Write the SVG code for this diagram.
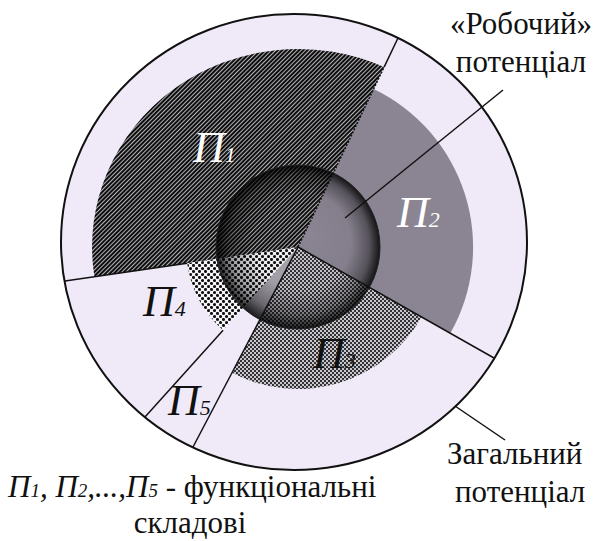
<svg xmlns="http://www.w3.org/2000/svg" width="596" height="541" viewBox="0 0 596 541">
<style>
text{font-family:'Liberation Serif','DejaVu Serif',serif}
.t{font-size:31px;fill:#111}
.pl{font-style:italic;font-size:44px}
.sub{font-size:22px}
.ln{stroke:#111;stroke-width:1.5;fill:none}
</style>
<defs>
<pattern id="hatch" width="3" height="3" patternUnits="userSpaceOnUse" patternTransform="rotate(-45)">
<rect width="3" height="3" fill="#c8c6cc"/>
<rect width="3" height="2.1" fill="#0e0e0e"/>
</pattern>
<pattern id="check" width="4" height="4" patternUnits="userSpaceOnUse">
<rect width="4" height="4" fill="#c9c5cd"/>
<rect width="2" height="2" fill="#333336"/>
<rect x="2" y="2" width="2" height="2" fill="#333336"/>
</pattern>
<pattern id="dots" width="6" height="6" patternUnits="userSpaceOnUse">
<rect width="6" height="6" fill="#f8f6fb"/>
<circle cx="1.5" cy="1.5" r="1.55" fill="#111"/>
<circle cx="4.5" cy="4.5" r="1.55" fill="#111"/>
</pattern>
<radialGradient id="sph" cx="0.5" cy="0.5" r="0.5" fx="0.56" fy="0.42">
<stop offset="0" stop-color="#000" stop-opacity="0"/>
<stop offset="0.6" stop-color="#000" stop-opacity="0.05"/>
<stop offset="0.85" stop-color="#000" stop-opacity="0.38"/>
<stop offset="1" stop-color="#000" stop-opacity="0.85"/>
</radialGradient>
</defs>
<rect width="596" height="541" fill="#fff"/>
<g id="outer">
<ellipse cx="294" cy="242" rx="233" ry="228" fill="#f0eaf8" stroke="#111" stroke-width="2"/>
</g>
<g id="p1">
<path d="M298 247 L94.4 276.7 A206 198 0 0 1 384.1 67.1 Z" fill="url(#hatch)"/>
</g>
<g id="p2">
<path d="M298 247 L373.6 89.1 A175 175 0 0 1 450.3 333.3 Z" fill="#8b8593"/>
</g>
<g id="p3">
<path d="M298 247 L421.6 317 A142 142 0 0 1 232 372.7 Z" fill="url(#check)"/>
</g>
<g id="p4">
<path d="M298 247 L223.1 330.2 A112 112 0 0 1 187.2 263.2 Z" fill="url(#dots)"/>
</g>
<g id="p5">
<path d="M298 247 L259.9 319.6 A82 82 0 0 1 243.1 307.9 Z" fill="#aaa6b0"/>
</g>
<g id="core">
<circle cx="298" cy="247" r="82" fill="url(#sph)" stroke="#222" stroke-width="1"/>
</g>
<g id="connectors">
<line class="ln" x1="384.1" y1="67.1" x2="398" y2="38"/>
<line x1="298" y1="247" x2="384.1" y2="67.1" stroke="#111" stroke-width="1.5" stroke-dasharray="2 1.5"/>
<line class="ln" x1="298" y1="247" x2="494" y2="358"/>
<line class="ln" x1="298" y1="247" x2="193" y2="447"/>
<line class="ln" x1="223.1" y1="330.2" x2="145" y2="417"/>
<line class="ln" x1="187.2" y1="263.2" x2="65" y2="281"/>
<line class="ln" x1="345" y1="218" x2="503" y2="90"/>
<line class="ln" x1="455" y1="406" x2="505" y2="440"/>
</g>
<g id="labels">
<text class="pl" x="193" y="162" fill="#fff">П<tspan class="sub">1</tspan></text>
<text class="pl" x="397" y="227" fill="#fff">П<tspan class="sub">2</tspan></text>
<text class="pl" x="313" y="368" fill="#111">П<tspan class="sub">3</tspan></text>
<text class="pl" x="143" y="316" fill="#111">П<tspan class="sub">4</tspan></text>
<text class="pl" x="168" y="415" fill="#111">П<tspan class="sub">5</tspan></text>
<text class="t" x="521" y="34" text-anchor="middle">«Робочий»</text>
<text class="t" x="521" y="72" text-anchor="middle">потенціал</text>
<text class="t" x="447" y="464">Загальний</text>
<text class="t" x="455" y="502">потенціал</text>
<text class="t" x="8" y="497"><tspan font-style="italic">П</tspan><tspan font-style="italic" font-size="19">1</tspan><tspan font-style="italic">, П</tspan><tspan font-style="italic" font-size="19">2</tspan><tspan font-style="italic">,...,П</tspan><tspan font-style="italic" font-size="19">5</tspan> - функціональні</text>
<text class="t" x="190" y="533" text-anchor="middle">складові</text>
</g>
</svg>
